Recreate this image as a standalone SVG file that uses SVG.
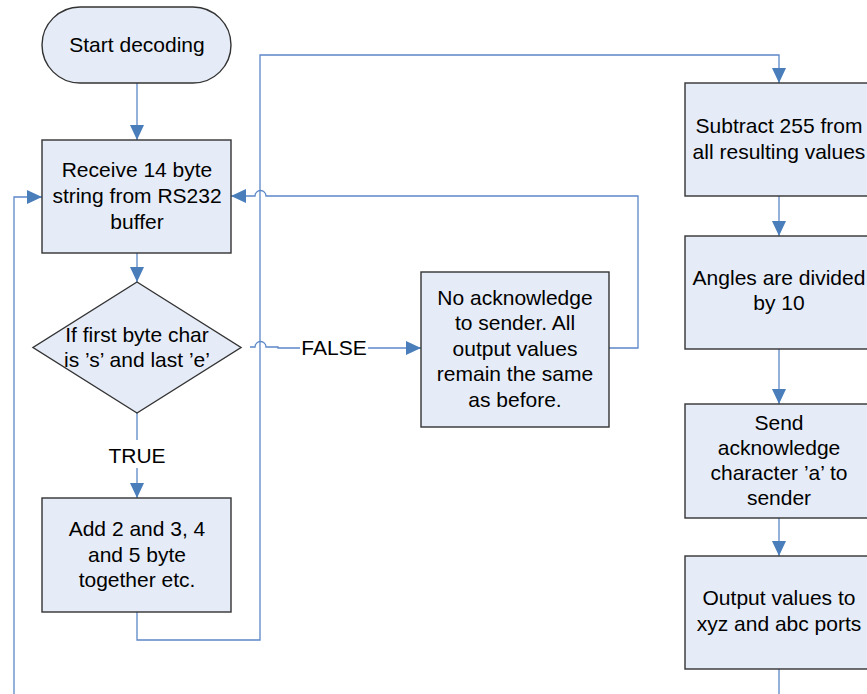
<svg xmlns="http://www.w3.org/2000/svg" width="867" height="694" viewBox="0 0 867 694">
<defs>
<marker id="ah" markerUnits="userSpaceOnUse" markerWidth="16" markerHeight="16" viewBox="0 0 16 16" refX="15" refY="8" orient="auto">
<path d="M0,1 L15,8 L0,15 Z" fill="#4a7ebb"/>
</marker>
</defs>
<style>
.box{fill:#e6ecf7;stroke:#333;stroke-width:1.4}
.t{font-family:"Liberation Sans",Arial,sans-serif;font-size:21px;fill:#000;text-anchor:middle}
.c{fill:none;stroke:#5b87c8;stroke-width:1.3}
</style>
<rect width="867" height="694" fill="#fff"/>
<g id="connectors">
<path class="c" d="M137,83 V140" marker-end="url(#ah)"/>
<path class="c" d="M137,253 V282" marker-end="url(#ah)"/>
<path class="c" d="M137,413 V440"/>
<path class="c" d="M137,468 V498" marker-end="url(#ah)"/>
<path class="c" d="M137,612 V640 H260 V55 H779 V83" marker-end="url(#ah)"/>
<path class="c" d="M14,694 V197 H42" marker-end="url(#ah)"/>
<path class="c" d="M250,347 H255 A5.5,5.5 0 0 1 266,347 H278 V348 H300"/>
<path class="c" d="M368,348 H421" marker-end="url(#ah)"/>
<path class="c" d="M609,348 H638 V196 H266 A5.5,5.5 0 0 0 255,196 H231" marker-end="url(#ah)"/>
<path class="c" d="M779,196 V236" marker-end="url(#ah)"/>
<path class="c" d="M779,349 V404" marker-end="url(#ah)"/>
<path class="c" d="M779,518 V556" marker-end="url(#ah)"/>
<path class="c" d="M779,669 V694"/>
<text class="t" x="334" y="355">FALSE</text>
<text class="t" x="137" y="463">TRUE</text>
</g>
<g id="start">
<rect class="box" x="42" y="7" width="189" height="76" rx="38" ry="38"/>
<text class="t" x="137" y="52">Start decoding</text>
</g>
<g id="receive">
<rect class="box" x="42" y="140" width="189" height="113"/>
<text class="t" x="137" y="177">Receive 14 byte</text>
<text class="t" x="137" y="203">string from RS232</text>
<text class="t" x="137" y="228.5">buffer</text>
</g>
<g id="decision">
<polygon class="box" points="137,282 241,347.5 137,413 33,347.5"/>
<text class="t" x="137" y="342">If first byte char</text>
<text class="t" x="137" y="367">is ’s’ and last ’e’</text>
</g>
<g id="add">
<rect class="box" x="42" y="498" width="189" height="114"/>
<text class="t" x="137" y="536">Add 2 and 3, 4</text>
<text class="t" x="137" y="561.5">and 5 byte</text>
<text class="t" x="137" y="587">together etc.</text>
</g>
<g id="noack">
<rect class="box" x="421" y="272" width="188" height="155"/>
<text class="t" x="515" y="305">No acknowledge</text>
<text class="t" x="515" y="330">to sender. All</text>
<text class="t" x="515" y="355.5">output values</text>
<text class="t" x="515" y="381">remain the same</text>
<text class="t" x="515" y="406.5">as before.</text>
</g>
<g id="subtract">
<rect class="box" x="685" y="83" width="189" height="113"/>
<text class="t" x="779" y="133">Subtract 255 from</text>
<text class="t" x="779" y="158.5">all resulting values</text>
</g>
<g id="angles">
<rect class="box" x="685" y="236" width="189" height="113"/>
<text class="t" x="779" y="285">Angles are divided</text>
<text class="t" x="779" y="310">by 10</text>
</g>
<g id="sendack">
<rect class="box" x="685" y="404" width="189" height="114"/>
<text class="t" x="779" y="429.5">Send</text>
<text class="t" x="779" y="454.5">acknowledge</text>
<text class="t" x="779" y="480">character ’a’ to</text>
<text class="t" x="779" y="505">sender</text>
</g>
<g id="output">
<rect class="box" x="685" y="556" width="189" height="113"/>
<text class="t" x="779" y="605">Output values to</text>
<text class="t" x="779" y="630.5">xyz and abc ports</text>
</g>
</svg>
